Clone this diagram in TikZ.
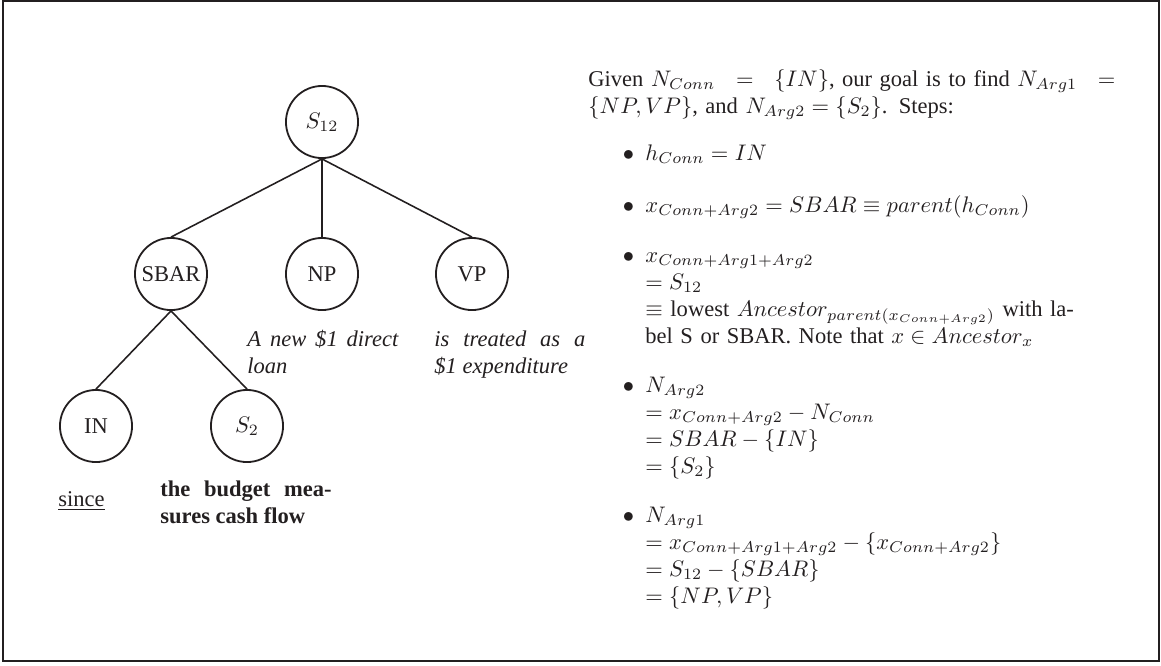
\documentclass[tikz,border=0pt]{standalone}
\usepackage[no-math]{fontspec}
\setmainfont{Liberation Serif}
\definecolor{ink}{HTML}{231F20}
\tikzset{
  tnode/.style={draw=ink, circle, line width=0.8pt, minimum size=32pt, inner sep=0pt, text=ink},
  txt/.style={anchor=base west, inner sep=0pt, text=ink},
  para/.style={txt, text width=#1, align=justify},
  steps/.style={txt, text width=#1, align=left},
}
\newcommand{\itembullet}{\llap{$\bullet$\hspace{5pt}}}
\newcommand{\spreadline}[1]{\makebox[\linewidth][s]{#1}}
\begin{document}
\begin{tikzpicture}[x=0.444pt, y=-0.444pt]
      \useasboundingbox (0,0) rectangle (1161,665);
      \draw[ink, line width=0.9pt] (3,1) rectangle (1159,661);
      % tree
      \draw
        (322,122) node[tnode] (s12){$S_{12}$}
        (171,274) node[tnode] (sbar){SBAR}
        (322,274) node[tnode] (np){NP}
        (472,274) node[tnode] (vp){VP}
        (96,426) node[tnode] (in){IN}
        (247,426) node[tnode] (s2){$S_2$};
      \begin{scope}[-, draw=ink, line width=0.7pt]
        \draw (s12.south) to (sbar.north);
        \draw (s12.south) to (np.north);
        \draw (s12.south) to (vp.north);
        \draw (sbar.south) to (in.north);
        \draw (sbar.south) to (s2.north);
      \end{scope}
      % words under the leaves
      \node[para=67pt, font=\itshape] (nptext) at (247,346) {A new \$1 direct\linebreak loan};
      \node[para=67pt, font=\itshape] (vptext) at (434,346) {is treated as a\linebreak \$1 expenditure};
      \node[txt] (intext) at (58,506) {\underline{since}};
      \node[para=76pt, font=\bfseries] (s2text) at (160,496) {the budget mea-\linebreak sures cash flow};
      % steps
      \node[steps=234pt] (given) at (588,86)
        {\spreadline{Given $N_{Conn} = \{IN\}$, our goal is to find $N_{Arg1} =$}\\
         $\{NP,VP\}$, and $N_{Arg2} = \{S_2\}$. Steps:};
      \node[steps=209pt] (step1) at (645,160) {\itembullet$h_{Conn} = IN$};
      \node[steps=209pt] (step2) at (645,212)
        {\itembullet$x_{Conn+Arg2} = SBAR \equiv parent(h_{Conn})$};
      \node[steps=209pt] (step3) at (645,262)
        {\itembullet$x_{Conn+Arg1+Arg2}$\\
         $= S_{12}$\\
         \spreadline{$\equiv$ lowest $Ancestor_{parent(x_{Conn+Arg2})}$ with la-}\\
         bel S or SBAR. Note that $x \in Ancestor_x$};
      \node[steps=209pt] (step4) at (645,392)
        {\itembullet$N_{Arg2}$\\
         $= x_{Conn+Arg2} - N_{Conn}$\\
         $= SBAR - \{IN\}$\\
         $= \{S_2\}$};
      \node[steps=209pt] (step5) at (645,522)
        {\itembullet$N_{Arg1}$\\
         $= x_{Conn+Arg1+Arg2} - \{x_{Conn+Arg2}\}$\\
         $= S_{12} - \{SBAR\}$\\
         $= \{NP,VP\}$};
    \end{tikzpicture}
\end{document}
